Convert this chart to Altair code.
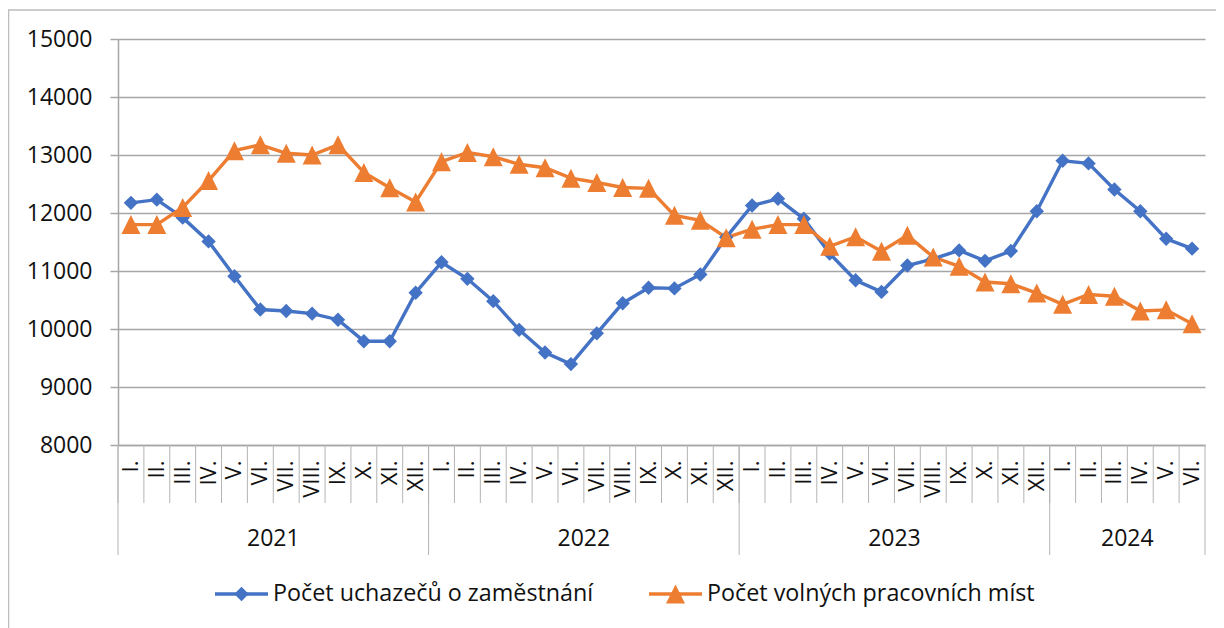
import altair as alt
import pandas as pd

years = ["2021", "2022", "2023", "2024"]
months_in_year = [12, 12, 12, 6]
month_labels = ["I.", "II.", "III.", "IV.", "V.", "VI.", "VII.", "VIII.", "IX.", "X.", "XI.", "XII."]
series_names = ["Počet uchazečů o zaměstnání", "Počet volných pracovních míst"]

uchazeci = [
    12175, 12230, 11920, 11510, 10910, 10335, 10310, 10265, 10160, 9790, 9790, 10625,
    11150, 10865, 10480, 9985, 9595, 9395, 9925, 10445, 10710, 10700, 10940, 11580,
    12130, 12245, 11900, 11300, 10840, 10640, 11095, 11210, 11355, 11175, 11345, 12030,
    12900, 12855, 12405, 12030, 11555, 11385,
]
mista = [
    11800, 11800, 12095, 12560, 13075, 13175, 13030, 13000, 13175, 12700, 12435, 12190,
    12885, 13045, 12970, 12840, 12780, 12600, 12525, 12440, 12425, 11960, 11875, 11575,
    11720, 11800, 11800, 11425, 11590, 11340, 11615, 11240, 11080, 10810, 10780, 10620,
    10425, 10595, 10565, 10310, 10330, 10090,
]
y_ticks = [8000, 9000, 10000, 11000, 12000, 13000, 14000, 15000]

BLUE = "#4472C4"
ORANGE = "#ED7D31"
GRID = "#a6a6a6"
SEP = "#b4b4b4"
FONT = "Open Sans"
TXT = "#111111"

periods = []
year_first, year_mid = [], []
for y, n in zip(years, months_in_year):
    start = len(periods)
    for m in month_labels[:n]:
        periods.append(f"{y} {m}")
    year_first.append(periods[start])
    year_mid.append(periods[start + n // 2 - 1])

df = pd.DataFrame({
    "period": periods * 2,
    "series": [series_names[0]] * len(periods) + [series_names[1]] * len(periods),
    "value": uchazeci + mista,
})
df_periods = pd.DataFrame({"period": periods})
df_years = pd.DataFrame({"year": years, "first": year_first, "mid": year_mid})
df_last = pd.DataFrame({"period": [periods[-1]]})
df_one = pd.DataFrame({"a": [0]})

W, H = 1087, 406
TOTAL_W, TOTAL_H = 1208, 620
xscale = alt.Scale(type="band", domain=periods, paddingInner=0, paddingOuter=0)
yscale = alt.Scale(domain=[8000, 15000], nice=False, zero=False)

DIAMOND = "M0,-0.72L0.72,0L0,0.72L-0.72,0Z"
TRIANGLE = "M0,-0.95L0.95,0.95L-0.95,0.95Z"

x_axis = alt.Axis(
    title=None, labelExpr="split(datum.label, ' ')[1]", labelAngle=270,
    ticks=False, labelPadding=15, labelFontSize=22, labelFont=FONT, labelColor=TXT,
    domain=True, domainColor=GRID, domainWidth=1.5, grid=False,
    labelOverlap=False, labelBound=False,
)
y_axis = alt.Axis(
    title=None, values=y_ticks, format="d", grid=True, gridColor=GRID, gridWidth=1.5,
    tickSize=8, tickColor=GRID, tickWidth=1.5, domain=True, domainColor=GRID,
    domainWidth=1.5, labelPadding=18, labelFontSize=23, labelFont=FONT,
    labelColor=TXT,
)

def X(field, band):
    return alt.X(field, scale=xscale, bandPosition=band, axis=x_axis)

frame = alt.Chart(df_one).mark_rect(filled=False, stroke="#bdbdbd", strokeWidth=1.5).encode(
    x=alt.value(-109.5), y=alt.value(-29), x2=alt.value(1300), y2=alt.value(800)
)

month_rules = alt.Chart(df_periods).mark_rule(color=SEP, strokeWidth=1).encode(
    x=X("period:N", 0), y=alt.value(H), y2=alt.value(H + 58),
)
year_rules = alt.Chart(df_years).mark_rule(color=SEP, strokeWidth=1).encode(
    x=X("first:N", 0), y=alt.value(H), y2=alt.value(H + 110),
)
end_rule = alt.Chart(df_last).mark_rule(color=SEP, strokeWidth=1).encode(
    x=X("period:N", 1), y=alt.value(H), y2=alt.value(H + 110),
)
year_text = alt.Chart(df_years).mark_text(
    font=FONT, fontSize=23, color=TXT, baseline="middle", align="center"
).encode(
    x=X("mid:N", 1), y=alt.value(H + 94), text="year:N",
)

color_scale = alt.Scale(domain=series_names, range=[BLUE, ORANGE])
shape_scale = alt.Scale(domain=series_names, range=[DIAMOND, TRIANGLE])
y_enc = alt.Y("value:Q", scale=yscale, axis=y_axis)

lines = alt.Chart(df).mark_line(strokeWidth=3.4).encode(
    x=X("period:N", 0.5), y=y_enc,
    color=alt.Color("series:N", scale=color_scale, legend=None),
    detail="series:N",
)
points = alt.Chart(df).mark_point(filled=True, size=400, opacity=1).encode(
    x=X("period:N", 0.5), y=y_enc,
    color=alt.Color("series:N", scale=color_scale, legend=None),
    shape=alt.Shape("series:N", scale=shape_scale, legend=None),
)

LY = 555
def legend_entry(name, color, shape, x0):
    r = alt.Chart(df_one).mark_rule(color=color, strokeWidth=3.4).encode(
        x=alt.value(x0), x2=alt.value(x0 + 53), y=alt.value(LY)
    )
    p = alt.Chart(df_one).mark_point(filled=True, size=400, opacity=1, color=color, shape=shape).encode(
        x=alt.value(x0 + 26.5), y=alt.value(LY)
    )
    t = alt.Chart(df_one).mark_text(
        text=name, font=FONT, fontSize=23.3, color=TXT, align="left", baseline="middle"
    ).encode(x=alt.value(x0 + 58), y=alt.value(LY))
    return r + p + t

leg1 = legend_entry(series_names[0], BLUE, DIAMOND, 97)
leg2 = legend_entry(series_names[1], ORANGE, TRIANGLE, 531)

chart = alt.layer(
    frame, month_rules, year_rules, end_rule, year_text, lines, points, leg1, leg2
).properties(
    width=W, height=H,
    background="white",
    autosize=alt.AutoSizeParams(type="none"),
    padding={"left": 110, "top": 31, "right": TOTAL_W - 110 - W, "bottom": TOTAL_H - 31 - H},
).configure_view(stroke=None)

chart.save("out.html", embed_options={"renderer": "svg", "actions": False})
